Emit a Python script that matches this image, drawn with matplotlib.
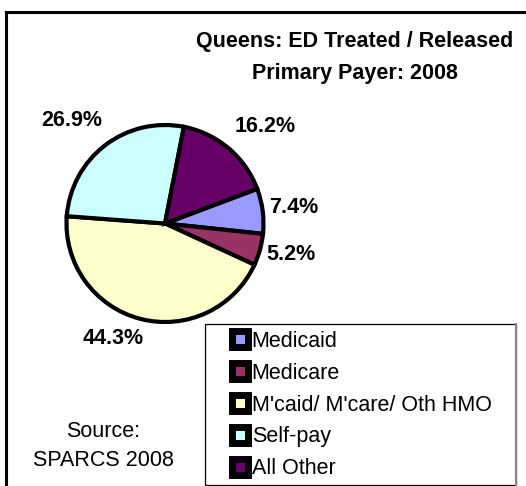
import matplotlib
matplotlib.use('Agg')
import matplotlib.pyplot as plt
from matplotlib.lines import Line2D
from matplotlib.patches import Rectangle
import numpy as np

plt.rcParams['font.family'] = ['Liberation Sans', 'DejaVu Sans']

# data
payers = ['Medicaid', 'Medicare', "M'caid/ M'care/ Oth HMO", 'Self-pay', 'All Other']
shares = [7.4, 5.2, 44.3, 26.9, 16.2]
colors = ['#9999FF', '#993366', '#FFFFCC', '#CCFFFF', '#660066']
title_lines = ['Queens: ED Treated / Released', 'Primary Payer: 2008']
source_lines = ['Source:', 'SPARCS 2008']

# label placement (angle offset from wedge middle, distance in radii)
lab_off = [0.0, 1.6, -10.0, 4.6, -5.8]
lab_dist = [1.32, 1.32, 1.28, 1.41, 1.42]

W, H = 526, 486
fs = 15.5
fig = plt.figure(figsize=(W / 100, H / 100), dpi=100)


def fx(x):
    return x / W


def fy(y):
    return 1 - y / H


# pie axes, centre (165, 223.5) px, radius 98.5 px
r = 98.5
half = r * 1.5
ax = fig.add_axes([fx(165 - half), fy(223.5 + half), 2 * half / W, 2 * half / H])
wedges, _ = ax.pie(shares, colors=colors, startangle=20.6, counterclock=False,
                   wedgeprops=dict(edgecolor='black', linewidth=3.0))
ax.set_xlim(-1.5, 1.5)
ax.set_ylim(-1.5, 1.5)
ax.set_aspect('equal')
ax.axis('off')

for w, v, off, d in zip(wedges, shares, lab_off, lab_dist):
    ang = np.deg2rad((w.theta1 + w.theta2) / 2 + off)
    ax.text(d * np.cos(ang), d * np.sin(ang), '%.1f%%' % v, ha='center', va='center',
            fontsize=fs, fontweight='bold')

# title
fig.text(fx(355), fy(41.7), title_lines[0], ha='center', va='center', fontsize=fs, fontweight='bold')
fig.text(fx(355), fy(73), title_lines[1], ha='center', va='center', fontsize=fs, fontweight='bold')

# source note
fig.text(fx(103), fy(431), source_lines[0], ha='center', va='center', fontsize=fs)
fig.text(fx(103), fy(460), source_lines[1], ha='center', va='center', fontsize=fs)

# outer frame (left and top only)
fig.add_artist(Line2D([fx(6), fx(6)], [fy(12), 0], color='black', lw=2.2))
fig.add_artist(Line2D([fx(6), 1], [fy(12), fy(12)], color='black', lw=2.2))

# legend box
fig.add_artist(Rectangle((fx(205), fy(485)), (516 - 205) / W, (485 - 324) / H,
                         transform=fig.transFigure, fill=False, edgecolor='black', lw=0.9))
fig.add_artist(Line2D([fx(516), fx(516)], [fy(485), fy(324)], color='#888888', lw=1.5))

handles = [Line2D([], [], linestyle='none', marker='s', markersize=11.0,
                  markeredgewidth=5.0, markeredgecolor='black', markerfacecolor=c)
           for c in colors]
leg = fig.legend(handles, payers, loc='upper left', bbox_to_anchor=(fx(229), fy(331)),
                 frameon=False, fontsize=fs, handlelength=1.0, handletextpad=0.05,
                 labelspacing=0.5, borderpad=0, borderaxespad=0)

fig.savefig('out.png', dpi=100)
